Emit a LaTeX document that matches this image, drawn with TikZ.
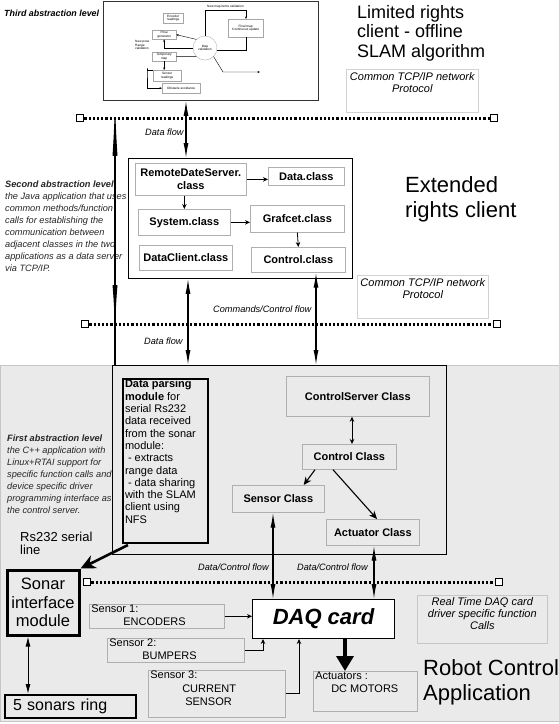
\documentclass[tikz,border=0pt]{standalone}
\usepackage{fontspec}
\setmainfont{Liberation Sans}
\usetikzlibrary{arrows.meta,calc}
\newcommand\tb[3]{\parbox[t][#2][t]{#1}{#3}}
\definecolor{bgc}{RGB}{234,234,234}
\definecolor{clsb}{RGB}{175,175,175}
\begin{document}
\begin{tikzpicture}[x=1pt,y=-1pt,
  lbl/.style={font=\fontsize{9.2}{12}\selectfont\itshape, inner sep=0pt, anchor=base west},
  cls/.style={draw=clsb, line width=0.7pt, font=\fontsize{11}{12.5}\selectfont\bfseries, align=center, anchor=north west, inner sep=0pt},
  tbox/.style={draw=clsb, line width=0.6pt, anchor=north west, inner xsep=2pt, inner ysep=1pt},
  frame/.style={draw, line width=0.8pt, anchor=north west, inner sep=0pt},
  sq/.style={draw, line width=1.6pt, fill=white, minimum size=7pt, inner sep=0pt},
  dotl/.style={line width=3pt, dash pattern=on 2.2pt off 2pt},
  sarr/.style={line width=0.8pt, -{Stealth[length=5pt,width=4.5pt]}},
  varr/.style={line width=1.1pt, {Latex[length=15pt,width=5pt]}-{Latex[length=15pt,width=5pt]}},
  marr/.style={line width=1.1pt, -{Stealth[length=8pt,width=7pt]}},
  tiny/.style={draw=gray!70, line width=0.3pt, font=\fontsize{3.2}{3.6}\selectfont, align=center, inner sep=0.5pt, anchor=north west},
  tarr/.style={line width=0.4pt, -{Stealth[length=2.5pt,width=2pt]}},
  big/.style 2 args={font=\fontsize{#1}{#2}\selectfont, align=left, inner sep=0pt, anchor=north west},
  side/.style={font=\fontsize{9.2}{12}\selectfont\itshape, text=black!85, align=left, inner sep=0pt, anchor=north west},
]
\fill[white] (0,0) rectangle (559,724);
\useasboundingbox (0,0) rectangle (559,724);

% ---------- top level ----------
\node[frame, draw=black!80, minimum width=215pt, minimum height=99pt] (slam) at (103,1) {};
\node[font=\fontsize{8.9}{11}\selectfont\bfseries\itshape, inner sep=0pt, anchor=base west] (t3) at (4,16) {Third abstraction level};
\node[big={18}{19.5}] (lim) at (357,5) {Limited rights\\client - offline\\SLAM algorithm};
\node[tbox, draw=gray!35, inner xsep=0pt, inner ysep=3pt, font=\fontsize{11}{12}\selectfont\itshape] (tcp1) at (346,69) {\tb{132pt}{37pt}{\centering Common TCP/IP network\\Protocol}};

% inner flowchart (SLAM)
\node[tiny, minimum width=20pt, minimum height=10pt] (enc) at (163,13) {Encoder\\readings};
\node[tiny, minimum width=24pt, minimum height=9pt] (pose) at (152,30) {Pose\\generator};
\node[tiny, minimum width=24pt, minimum height=9pt] (tmap) at (152,52) {Temporary\\map};
\node[tiny, minimum width=28pt, minimum height=11pt] (sens) at (153,70) {Sensor\\readings};
\node[tiny, minimum width=38pt, minimum height=10pt] (obst) at (162,83) {Obstacle avoidance};
\node[tiny, minimum width=35pt, minimum height=18pt] (fmap) at (228,19) {Final map\\Continuous update};
\node[tiny, circle, anchor=center, minimum size=24pt] (mapv) at (205,48) {Map\\validation};
\node[font=\fontsize{3.2}{3.6}\selectfont, inner sep=0pt, anchor=west] (nmi) at (207,7) {New map items validation};
\node[font=\fontsize{3.2}{3.6}\selectfont, inner sep=0pt, align=left, anchor=north west] (npr) at (135,40) {New pose\\Range\\validation};
\coordinate (fc1) at (246,10);
\coordinate (fc2) at (246,50);
\coordinate (lp) at (147,68);
\coordinate (oa) at (223,72);
\coordinate (ob) at (260,72);
\draw[tarr] (mapv.north) |- (fc1) -- (fmap.north -| fc1);
\draw[line width=0.4pt] (fmap.south -| fc1) -- (fc2) -- (mapv.east |- fc2);
\draw[tarr] (mapv.north west) -- (pose.east);
\draw[tarr] (mapv.west) -- (pose.south |- mapv.west) -- (pose.south);
\draw[line width=0.4pt] (tmap.east) -- (mapv.south west);
\draw[tarr] (tmap.south) -- (sens.north -| tmap.south);
\draw[tarr] (sens.north west) -| (lp) |- (obst.west);
\draw[tarr] (mapv.south east) -- (oa) -- (ob);

% ---------- dotted line 1 ----------
\node[sq] (q1l) at (80,118) {};
\node[sq] (q1r) at (494,118) {};
\draw[dotl] (q1l.east) -- (q1r.west);

% ---------- extended rights client ----------
\node[frame, minimum width=224pt, minimum height=120pt] (mid) at (128,158) {};
\node[cls, minimum width=111pt, minimum height=32pt] (rds) at (135,163) {RemoteDateServer.\\class};
\node[cls, minimum width=76pt, minimum height=18pt] (data) at (268,167) {Data.class};
\node[cls, minimum width=92pt, minimum height=26pt] (sys) at (138,209) {System.class};
\node[cls, minimum width=94pt, minimum height=27pt] (graf) at (250,205) {Grafcet.class};
\node[cls, minimum width=93pt, minimum height=25pt] (dcl) at (139,245) {DataClient.class};
\node[cls, minimum width=94pt, minimum height=25pt] (ctl) at (251,247) {Control.class};
\draw[sarr] (rds.east) -- (rds.east -| data.west);
\draw[sarr] (sys.north |- rds.south) -- (sys.north);
\draw[sarr] (sys.east) -- (sys.east -| graf.west);
\draw[sarr] (graf.south) -- (ctl.north);

\node[big={22}{25}] (ext) at (405,176) {Extended\\rights client};
\node[side] (t2) at (5,181) {{\bfseries Second abstraction level}\\the Java application that uses\\common methods/function\\calls for establishing the\\communication between\\adjacent classes in the two\\applications as a data server\\via TCP/IP.};
\node[tbox, draw=gray!35, inner xsep=0pt, inner ysep=3pt, font=\fontsize{11}{12}\selectfont\itshape] (tcp2) at (357,275) {\tb{131pt}{37pt}{\centering Common TCP/IP network\\Protocol}};

\node[lbl] (df1) at (145,135) {Data flow};

% ---------- dotted line 2 ----------
\node[sq] (q2l) at (85,324) {};
\node[sq] (q2r) at (497,324) {};
\draw[dotl] (q2l.east) -- (q2r.west);

% ---------- robot control application ----------
\node[fill=bgc, draw=gray!45, anchor=north west, minimum width=559pt, minimum height=356pt, inner sep=0pt] (robot) at (0,365) {};
\node[frame, minimum width=334pt, minimum height=189pt] (app) at (112,365) {};

\node[lbl] (df2) at (144,344) {Data flow};
\node[lbl] (ccf) at (213,312) {Commands/Control flow};

\coordinate (x115) at (115,0);
\coordinate (d115) at (115,330);
\coordinate (x186) at (186,0);
\coordinate (x188) at (188,0);
\coordinate (x316) at (316,0);
\draw[line width=1.1pt, {Latex[length=55pt,width=5pt]}-] (x115 |- slam.south) -- (x115 |- robot.north);
\draw[line width=1.1pt, -{Latex[length=45pt,width=5pt]}] (x115 |- robot.north) ++(0,-80) -- (d115);
\draw[varr] (x186 |- slam.south) -- (x186 |- mid.north);
\draw[varr] (x188 |- mid.south) -- (x188 |- app.north);
\draw[varr] (x316 |- ctl.south) -- (x316 |- app.north);

\node[draw, line width=2pt, anchor=north west, inner xsep=2pt, inner ysep=1pt, font=\fontsize{11}{12.3}\selectfont] (parse) at (122,378) {\tb{81pt}{162pt}{\raggedright{\bfseries Data parsing\\module} for\\serial Rs232\\data received\\from the sonar\\module:\\\hspace*{3pt}- extracts\\range data\\\hspace*{3pt}- data sharing\\with the SLAM\\client using\\NFS}};

\node[cls, minimum width=143pt, minimum height=40pt] (csrv) at (286,376) {ControlServer Class};
\node[cls, minimum width=94pt, minimum height=25pt] (cc) at (302,444) {Control Class};
\node[cls, minimum width=92pt, minimum height=27pt] (sc) at (232,485) {Sensor Class};
\node[cls, minimum width=93pt, minimum height=26pt] (ac) at (326,519) {Actuator Class};
\coordinate (x352) at (352,0);
\draw[line width=0.8pt, {Stealth[length=5pt,width=4.5pt]}-{Stealth[length=5pt,width=4.5pt]}] (x352 |- csrv.south) -- (x352 |- cc.north);
\draw[marr] ($(cc.south west)+(13,0)$) -- ($(sc.north east)+(-21,0)$);
\draw[marr] ($(cc.south west)+(31,0)$) -- ($(ac.north west)+(51,0)$);

\node[side] (t1) at (7,435) {{\bfseries First abstraction level}\\the C++ application with\\Linux+RTAI support for\\specific function calls and\\device specific driver\\programming interface as\\the control server.};
\node[big={13}{13}] (rs) at (20,532) {Rs232 serial\\line};

\node[draw, line width=3pt, anchor=north west, minimum width=72pt, minimum height=65pt, align=center, font=\fontsize{16.5}{18.5}\selectfont, inner sep=0pt] (son) at (5.5,568.5) {Sonar\\interface\\module};
\node[draw, line width=2pt, anchor=north west, minimum width=131pt, minimum height=23pt, text width=115pt, inner xsep=8pt, inner ysep=0pt, align=left, font=\fontsize{16}{18}\selectfont] (ring) at (4,694) {5 sonars ring};
\coordinate (x28) at (28,0);
\draw[line width=1pt, {Latex[length=10pt,width=5pt]}-{Latex[length=10pt,width=5pt]}] (x28 |- son.south) -- (x28 |- ring.north);
\draw[line width=2.6pt, -{Stealth[length=15pt,width=14pt]}] ($(parse.south west)+(6,1)$) -- (son.north east);

% ---------- dotted line 3 ----------
\node[sq] (q3l) at (87,582) {};
\node[sq] (q3r) at (499,582) {};
\draw[dotl] (q3l.east) -- (q3r.west);
\node[lbl] (dcf1) at (198,570) {Data/Control flow};
\node[lbl] (dcf2) at (297,570) {Data/Control flow};

\node[draw, fill=white, line width=1pt, anchor=north west, minimum width=142pt, minimum height=39pt, inner sep=0pt, font=\fontsize{22}{24}\selectfont\bfseries\itshape] (daq) at (252,599) {DAQ card};
\coordinate (x273) at (273,0);
\coordinate (x374) at (374,0);
\draw[varr] (x273 |- sc.south) -- (x273 |- daq.north);
\draw[varr] (x374 |- ac.south) -- (x374 |- daq.north);

\node[tbox, font=\fontsize{11}{13}\selectfont] (s1) at (89,604) {\tb{131pt}{22pt}{Sensor 1:\\\hspace*{32pt}ENCODERS}};
\node[tbox, font=\fontsize{11}{13}\selectfont] (s2) at (107,638) {\tb{133pt}{22pt}{Sensor 2:\\\hspace*{33pt}BUMPERS}};
\node[tbox, font=\fontsize{11}{13.5}\selectfont] (s3) at (148,670) {\tb{133pt}{45pt}{Sensor 3:\\\hspace*{32pt}CURRENT\\\hspace*{35pt}SENSOR}};
\node[tbox, font=\fontsize{11}{13}\selectfont] (act) at (313,671) {\tb{100pt}{38pt}{Actuators :\\\hspace*{16pt}DC MOTORS}};
\coordinate (x263) at (263,0);
\coordinate (x299) at (299,0);
\draw[sarr, line width=1pt] (s1.east) -- (s1.east -| daq.west);
\draw[sarr, line width=1pt] (s2.east) -| (x263 |- daq.south);
\draw[sarr, line width=1pt] (s3.east) -| (x299 |- daq.south);
\coordinate (x345) at (345,0);
\draw[line width=3.5pt, -{Triangle[length=15pt,width=17pt]}] (x345 |- daq.south) -- (x345 |- act.north);

\node[tbox, draw=gray!45, inner xsep=0pt, inner ysep=2pt, font=\fontsize{11}{12}\selectfont\itshape] (rt) at (417,595) {\tb{130pt}{44pt}{\centering Real Time DAQ card\\driver specific function\\Calls}};
\node[big={22}{25}] (rca) at (423,659) {Robot Control\\Application};
\end{tikzpicture}
\end{document}
